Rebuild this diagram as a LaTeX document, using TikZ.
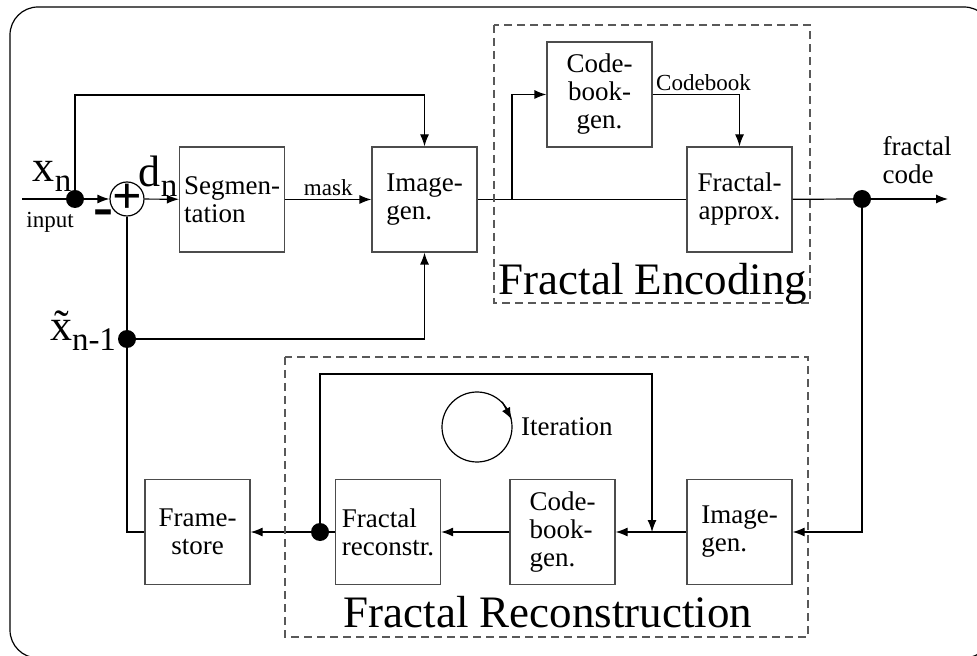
\documentclass[tikz,border=0pt]{standalone}
\usepackage{fontspec}
\setmainfont{Liberation Serif}
\usetikzlibrary{positioning,arrows.meta}

\begin{document}
\begin{tikzpicture}[
  x=0.5pt, y=-0.5pt,
  line width=0.6pt,
  block/.style={draw=black!70,minimum width=52.5pt,minimum height=52.5pt,inner sep=2pt,align=left,font=\fontsize{13.5}{14}\selectfont},
  group/.style={draw=black!65,dash pattern=on 4pt off 2.5pt},
  lbl/.style={font=\fontsize{11.5}{12}\selectfont,inner sep=1.5pt},
  big/.style={font=\fontsize{22.5}{23}\selectfont,inner sep=0pt},
  sig/.style={font=\fontsize{22}{22}\selectfont,inner sep=0pt},
  >={Latex[length=6pt,width=4.5pt]}
]
\useasboundingbox (0,0) rectangle (977,656);
\draw[rounded corners=14pt] (10,7) rectangle (992,658);

% encoder
\node[circle,draw,minimum size=17pt,inner sep=0pt] (sum) at (127,199) {};
\node[font=\bfseries\fontsize{26}{26}\selectfont,inner sep=0pt] (plus) at (sum) {+};
\node[block] (seg) at (232,199.5) {Segmen-\\tation};
\node[block] (img) at (424.5,199.5) {Image-\\gen.};
\node[block,align=center] (cbk) at (599.5,94.5) {Code-\\book-\\gen.};
\node[block,align=center] (fap) at (739.5,199.5) {Fractal-\\approx.};

% decoder
\node[block,align=center] (fst) at (197.5,532) {Frame-\\store};
\node[block] (frc) at (388,532) {Fractal\\reconstr.};
\node[block] (cbr) at (562.5,532) {Code-\\book-\\gen.};
\node[block] (igr) at (739.5,532) {Image-\\gen.};
\node[circle,draw,minimum size=35pt,inner sep=0pt] (itc) at (477,427) {};
\node[right=4pt of itc,font=\fontsize{13.5}{14}\selectfont,inner sep=0pt] (itl) {Iteration};

% junctions
\coordinate (src) at (22,199);
\coordinate (dst) at (948,199);
\coordinate (jin) at (75,199);
\coordinate (jfb) at (127,339);
\coordinate (jenc) at (512,199);
\coordinate (jout) at (862,199);
\coordinate (jloop) at (320,532);
\coordinate (jmid) at (652,532);

% signal labels
\node[sig] (xn) at (52,176) {x\raisebox{-5pt}{\fontsize{16.5}{16.5}\selectfont n}};
\node[sig] (dn) at (158,176) {d\raisebox{-5pt}{\fontsize{16.5}{16.5}\selectfont n}};
\node[sig] (xt) at (83,331) {\~x\raisebox{-5pt}{\fontsize{16.5}{16.5}\selectfont n-1}};
\node[lbl] (inl) at (50,222) {input};
\node[font=\bfseries\fontsize{30}{30}\selectfont,inner sep=0pt] (neg) at (103,218) {-};
\node[font=\fontsize{13.5}{14}\selectfont,align=left] (fcl) at (917,160) {fractal\\code};

% connectors
\draw (src) -- (jin);
\draw[->] (jin) -- (sum);
\draw[->] (jin) -- ++(0,-104) -| (img);
\draw[->] (sum) -- (seg);
\draw[->] (seg) -- node[lbl,above]{mask} (img);
\draw (img) -- (fap);
\draw[->] (jenc) |- (cbk);
\draw[->] (cbk) -| node[lbl,pos=0,anchor=south west]{Codebook} (fap);
\draw (fap) -- (jout);
\draw[->] (jout) -- (dst);
\draw[->] (jout) |- (igr);
\draw[->] (igr) -- (cbr);
\draw[->] (cbr) -- (frc);
\draw (frc) -- (jloop);
\draw[->] (jloop) -- (fst);
\draw[->] (jloop) -- ++(0,-158) -| (jmid);
\draw (sum) |- (fst);
\draw[->] (jfb) -| (img);
\draw[->] (itc.45) -- (itc.12);

% groups
\draw[group] (494,25) rectangle (810,303);
\draw[group] (285,357) rectangle (808,637);
\node[big,anchor=base] (enc) at (653,295) {Fractal Encoding};
\node[big,anchor=base] (rec) at (548,627) {Fractal Reconstruction};

\foreach \j in {jin,jfb,jout,jloop}
  \fill (\j) circle (4.5pt);
\end{tikzpicture}
\end{document}
